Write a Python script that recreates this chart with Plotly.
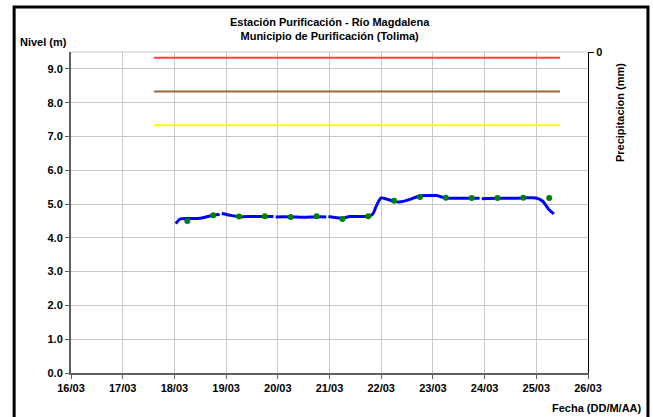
import plotly.graph_objects as go

# Level series (blue line); None marks small gaps in the record
nivel_fechas = [
    "2012-03-18 00:40", "2012-03-18 02:30", "2012-03-18 07:00", "2012-03-18 12:00",
    "2012-03-18 18:00", "2012-03-18 21:00", None,
    "2012-03-18 22:00", "2012-03-19 01:40", "2012-03-19 05:30", "2012-03-19 12:00",
    "2012-03-19 18:00", "2012-03-19 22:00", None,
    "2012-03-19 23:00", "2012-03-20 06:00", "2012-03-20 12:00", "2012-03-20 18:00",
    "2012-03-20 22:30", None,
    "2012-03-20 23:30", "2012-03-21 06:00", "2012-03-21 09:20", "2012-03-21 12:00",
    "2012-03-21 17:40", "2012-03-21 20:00", "2012-03-21 21:40", "2012-03-22 00:00",
    "2012-03-22 02:20", "2012-03-22 06:00", "2012-03-22 08:30", "2012-03-22 13:00",
    "2012-03-22 17:40", "2012-03-22 22:20", "2012-03-23 01:30", "2012-03-23 06:00",
    "2012-03-23 12:00", "2012-03-23 21:40", None,
    "2012-03-23 22:40", "2012-03-24 06:00", "2012-03-24 12:00", "2012-03-24 18:00",
    "2012-03-24 23:50", "2012-03-25 02:50", "2012-03-25 05:50", "2012-03-25 08:10",
]
nivel_valores = [
    4.42, 4.55, 4.57, 4.58,
    4.67, 4.69, None,
    4.72, 4.67, 4.63, 4.63,
    4.63, 4.63, None,
    4.62, 4.62, 4.61, 4.62,
    4.62, None,
    4.63, 4.58, 4.63, 4.63,
    4.64, 4.70, 4.93, 5.18,
    5.15, 5.08, 5.06, 5.13,
    5.24, 5.25, 5.25, 5.18,
    5.17, 5.17, None,
    5.16, 5.17, 5.17, 5.18,
    5.18, 5.09, 4.84, 4.71,
]

# Observation readings (green dots)
lectura_fechas = [
    "2012-03-18 06:00", "2012-03-18 18:00", "2012-03-19 06:00", "2012-03-19 18:00",
    "2012-03-20 06:00", "2012-03-20 18:00", "2012-03-21 06:00", "2012-03-21 18:00",
    "2012-03-22 06:00", "2012-03-22 18:00", "2012-03-23 06:00", "2012-03-23 18:00",
    "2012-03-24 06:00", "2012-03-24 18:00", "2012-03-25 06:00",
]
lectura_valores = [
    4.50, 4.67, 4.63, 4.64, 4.62, 4.64, 4.56, 4.64,
    5.10, 5.21, 5.19, 5.18, 5.18, 5.19, 5.18,
]

# Alert thresholds
umbral_fechas = ["2012-03-17 14:30", "2012-03-25 11:00"]
umbral_roja = 9.33
umbral_naranja = 8.33
umbral_amarilla = 7.33

# Precipitation (no data in this period)
precip_fechas = []
precip_valores = []

fig = go.Figure()

for nivel, color in [(umbral_roja, "#FF4040"), (umbral_naranja, "#A0693C"), (umbral_amarilla, "#FFFF00")]:
    fig.add_trace(go.Scatter(x=umbral_fechas, y=[nivel, nivel], mode="lines",
                             line=dict(color=color, width=2), showlegend=False, hoverinfo="skip"))

fig.add_trace(go.Bar(x=precip_fechas, y=precip_valores, yaxis="y2", showlegend=False))

fig.add_trace(go.Scatter(x=nivel_fechas, y=nivel_valores, mode="lines",
                         line=dict(color="#0000FF", width=3, shape="spline", smoothing=0.8),
                         connectgaps=False, showlegend=False))
fig.add_trace(go.Scatter(x=lectura_fechas, y=lectura_valores, mode="markers",
                         marker=dict(color="#008000", size=6), showlegend=False))

font_b = "Liberation Sans"
tf = dict(family=font_b, size=11, color="black", weight="bold")
fig.update_layout(
    width=653, height=417,
    margin=dict(l=71, r=65, t=52, b=44),
    paper_bgcolor="white", plot_bgcolor="white",
    font=dict(family=font_b, size=11, color="black"),
    xaxis=dict(
        type="date", range=["2012-03-16", "2012-03-26"],
        dtick=86400000, tickformat="%d/%m",
        showgrid=True, gridcolor="#C8C8C8", gridwidth=1,
        showline=True, linecolor="#606060", linewidth=2,
        ticks="outside", ticklen=4, tickcolor="#606060",
        tickfont=tf, zeroline=False,
    ),
    yaxis=dict(
        range=[0, 9.5], dtick=1, tickformat=".1f",
        showgrid=True, gridcolor="#C8C8C8", gridwidth=1,
        showline=True, linecolor="#606060", linewidth=2,
        ticks="outside", ticklen=4, tickcolor="#606060",
        tickfont=tf, zeroline=False,
    ),
    yaxis2=dict(
        overlaying="y", side="right", range=[10, 0],
        tickvals=[0], ticktext=["0"], showgrid=False, zeroline=False,
        showline=True, linecolor="black", linewidth=1,
        ticks="outside", ticklen=5, tickcolor="black",
        tickfont=tf,
    ),
    shapes=[
        dict(type="line", xref="paper", yref="paper", x0=0, x1=1, y0=1, y1=1,
             line=dict(color="#C8C8C8", width=1)),
        dict(type="rect", xref="paper", yref="paper", x0=-0.110, x1=1.116, y0=-0.15, y1=1.140,
             line=dict(color="black", width=3), layer="above"),
    ],
    annotations=[
        dict(text="<b>Estación Purificación - Río Magdalena</b><br><b>Municipio de Purificación (Tolima)</b>",
             xref="paper", yref="paper", x=0.501, y=1.118, xanchor="center", yanchor="top",
             showarrow=False, font=dict(family=font_b, size=11, color="black")),
        dict(text="<b>Nivel (m)</b>", xref="paper", yref="paper", x=-0.102, y=1.005,
             xanchor="left", yanchor="bottom", showarrow=False,
             font=dict(family=font_b, size=11, color="black")),
        dict(text="<b>Fecha (DD/M/AA)</b>", xref="paper", yref="paper", x=1.109, y=-0.085,
             xanchor="right", yanchor="top", showarrow=False,
             font=dict(family=font_b, size=11, color="black")),
        dict(text="<b>Precipitacion (mm)</b>", xref="paper", yref="paper", x=1.062, y=0.81,
             xanchor="center", yanchor="middle", textangle=-90, showarrow=False,
             font=dict(family=font_b, size=11, color="black")),
    ],
)

fig.write_html(
    "out.html",
    config={"displayModeBar": False},
    post_script="document.body.style.margin='0';document.body.style.overflow='hidden';",
)
